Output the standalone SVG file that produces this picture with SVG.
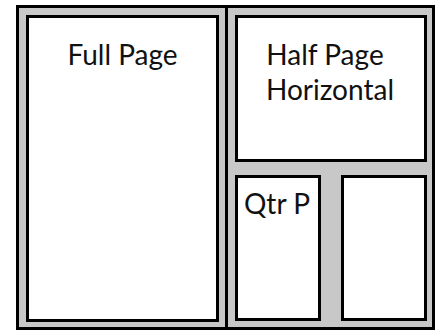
<svg xmlns="http://www.w3.org/2000/svg" width="440" height="333" viewBox="0 0 440 333">
<style>
.frame{fill:#c8c8c8;stroke:#000;stroke-width:3}
.box{fill:#fff;stroke:#000;stroke-width:3}
.lbl{font-family:Lato,"Open Sans",sans-serif;font-size:28px;font-weight:400;fill:#111}
</style>
<rect class="frame" x="17.5" y="6.5" width="416" height="322"/>
<g id="connectors">
<line x1="226.5" y1="5" x2="226.5" y2="330" stroke="#000" stroke-width="3"/>
</g>
<g id="full-page">
<rect class="box" x="27.5" y="16.5" width="190" height="304"/>
<text class="lbl" x="122.5" y="65" text-anchor="middle">Full Page</text>
</g>
<g id="half-page">
<rect class="box" x="236.5" y="16.5" width="189" height="144"/>
<text class="lbl" x="325" y="65" text-anchor="middle">Half Page</text>
<text class="lbl" x="330" y="100" text-anchor="middle">Horizontal</text>
</g>
<g id="qtr-p">
<rect class="box" x="236.5" y="176.5" width="83" height="143"/>
<text class="lbl" x="244" y="214">Qtr P</text>
</g>
<g id="qtr-2">
<rect class="box" x="342.5" y="176.5" width="83" height="143"/>
</g>
</svg>
